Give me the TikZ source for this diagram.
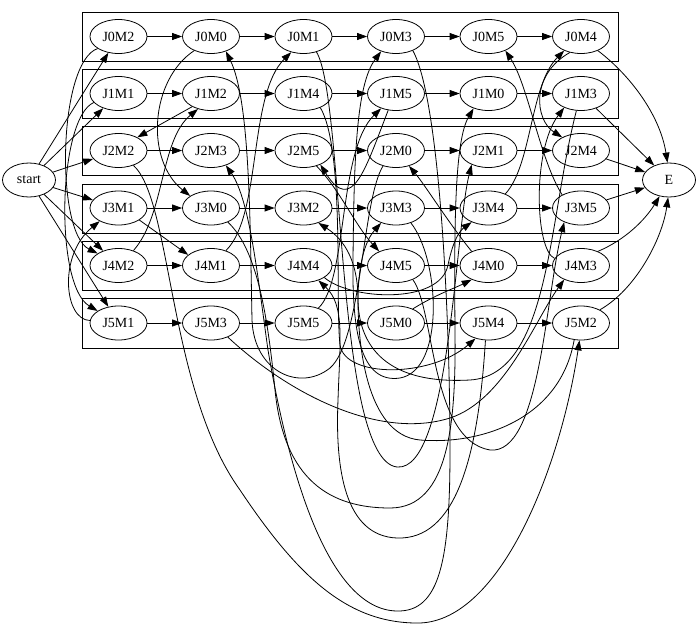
\documentclass[tikz,border=0pt]{standalone}
\usepackage{fontspec}
\setmainfont{Liberation Serif}
\usetikzlibrary{shapes.geometric,arrows.meta}
\begin{document}
\begin{tikzpicture}[x=1pt,y=-1pt,
  op/.style={draw,ellipse,minimum width=57pt,minimum height=34pt,inner sep=0pt,line width=0.8pt,font=\fontsize{14}{16}\selectfont},
  term/.style={op,minimum width=53pt},
  arr/.style={-{Triangle[length=10pt,width=7pt]},line width=0.8pt},
  jobbox/.style={draw,line width=0.8pt}]
\useasboundingbox (0,0) rectangle (700,629);
% job clusters
\draw[jobbox] (82,12) rectangle (618,61);
\draw[jobbox] (82,69) rectangle (618,118);
\draw[jobbox] (82,126) rectangle (618,175.5);
\draw[jobbox] (82,184) rectangle (618,233);
\draw[jobbox] (82,241) rectangle (618,290.5);
\draw[jobbox] (82,298.5) rectangle (618,348);
% terminals
\node[term] (start) at (29,180) {start};
\node[term] (E) at (669,180) {E};
% operations
\node[op] (J0M2) at (118.5,36.5) {J0M2};
\node[op] (J0M0) at (211,36.5) {J0M0};
\node[op] (J0M1) at (303.5,36.5) {J0M1};
\node[op] (J0M3) at (396,36.5) {J0M3};
\node[op] (J0M5) at (488.5,36.5) {J0M5};
\node[op] (J0M4) at (581,36.5) {J0M4};
\node[op] (J1M1) at (118.5,93.5) {J1M1};
\node[op] (J1M2) at (211,93.5) {J1M2};
\node[op] (J1M4) at (303.5,93.5) {J1M4};
\node[op] (J1M5) at (396,93.5) {J1M5};
\node[op] (J1M0) at (488.5,93.5) {J1M0};
\node[op] (J1M3) at (581,93.5) {J1M3};
\node[op] (J2M2) at (118.5,150.5) {J2M2};
\node[op] (J2M3) at (211,150.5) {J2M3};
\node[op] (J2M5) at (303.5,150.5) {J2M5};
\node[op] (J2M0) at (396,150.5) {J2M0};
\node[op] (J2M1) at (488.5,150.5) {J2M1};
\node[op] (J2M4) at (581,150.5) {J2M4};
\node[op] (J3M1) at (118.5,208) {J3M1};
\node[op] (J3M0) at (211,208) {J3M0};
\node[op] (J3M2) at (303.5,208) {J3M2};
\node[op] (J3M3) at (396,208) {J3M3};
\node[op] (J3M4) at (488.5,208) {J3M4};
\node[op] (J3M5) at (581,208) {J3M5};
\node[op] (J4M2) at (118.5,265.5) {J4M2};
\node[op] (J4M1) at (211,265.5) {J4M1};
\node[op] (J4M4) at (303.5,265.5) {J4M4};
\node[op] (J4M5) at (396,265.5) {J4M5};
\node[op] (J4M0) at (488.5,265.5) {J4M0};
\node[op] (J4M3) at (581,265.5) {J4M3};
\node[op] (J5M1) at (118.5,323) {J5M1};
\node[op] (J5M3) at (211,323) {J5M3};
\node[op] (J5M5) at (303.5,323) {J5M5};
\node[op] (J5M0) at (396,323) {J5M0};
\node[op] (J5M4) at (488.5,323) {J5M4};
\node[op] (J5M2) at (581,323) {J5M2};
% start edges
\draw[arr] (start) -- (J0M2);
\draw[arr] (start) -- (J1M1);
\draw[arr] (start) -- (J2M2);
\draw[arr] (start) -- (J3M1);
\draw[arr] (start) -- (J4M2);
\draw[arr] (start) -- (J5M1);
% job edges
\draw[arr] (J0M2) -- (J0M0); \draw[arr] (J0M0) -- (J0M1); \draw[arr] (J0M1) -- (J0M3);
\draw[arr] (J0M3) -- (J0M5); \draw[arr] (J0M5) -- (J0M4);
\draw[arr] (J1M1) -- (J1M2); \draw[arr] (J1M2) -- (J1M4); \draw[arr] (J1M4) -- (J1M5);
\draw[arr] (J1M5) -- (J1M0); \draw[arr] (J1M0) -- (J1M3);
\draw[arr] (J2M2) -- (J2M3); \draw[arr] (J2M3) -- (J2M5); \draw[arr] (J2M5) -- (J2M0);
\draw[arr] (J2M0) -- (J2M1); \draw[arr] (J2M1) -- (J2M4);
\draw[arr] (J3M1) -- (J3M0); \draw[arr] (J3M0) -- (J3M2); \draw[arr] (J3M2) -- (J3M3);
\draw[arr] (J3M3) -- (J3M4); \draw[arr] (J3M4) -- (J3M5);
\draw[arr] (J4M2) -- (J4M1); \draw[arr] (J4M1) -- (J4M4); \draw[arr] (J4M4) -- (J4M5);
\draw[arr] (J4M5) -- (J4M0); \draw[arr] (J4M0) -- (J4M3);
\draw[arr] (J5M1) -- (J5M3); \draw[arr] (J5M3) -- (J5M5); \draw[arr] (J5M5) -- (J5M0);
\draw[arr] (J5M0) -- (J5M4); \draw[arr] (J5M4) -- (J5M2);
% end edges
\draw[arr] (J0M4.-40) .. controls (630,75) and (660,115) .. (E.95);
\draw[arr] (J1M3) -- (E);
\draw[arr] (J2M4) -- (E);
\draw[arr] (J3M5) -- (E);
\draw[arr] (J4M3.40) .. controls (625,240) and (645,220) .. (E.-120);
\draw[arr] (J5M2.35) .. controls (635,290) and (662,240) .. (E.-93);
% machine M1
\draw[arr] (J1M1.200) .. controls (58,118) and (54,285) .. (J5M1.150);
\draw[arr] (J5M1.175) .. controls (64,320) and (58,255) .. (J3M1.-145);
\draw[arr] (J3M1.-30) -- (J4M1.155);
\draw[arr] (J4M1.45) .. controls (262,215) and (248,95) .. (J0M1.-128);
\draw[arr] (J0M1.-50) .. controls (345,100) and (335,460) .. (397,467) .. controls (450,472) and (455,230) .. (J2M1.-140);
% machine M2
\draw[arr] (J0M2.210) .. controls (58,62) and (55,232) .. (J4M2.150);
\draw[arr] (J4M2.45) .. controls (165,215) and (160,140) .. (J1M2.-130);
\draw[arr] (J1M2.-145) -- (J2M2.35);
\draw[arr] (J2M2.-45) .. controls (172,200) and (168,390) .. (240,490) .. controls (300,580) and (350,624) .. (420,623) .. controls (500,620) and (560,470) .. (J5M2.-95);
\draw[arr] (J5M2.-112) .. controls (560,420) and (480,445) .. (420,440) .. controls (365,435) and (358,340) .. (358,300) .. controls (358,262) and (345,240) .. (J3M2.-45);
% machine M0
\draw[arr] (J0M0.-140) .. controls (150,80) and (145,160) .. (J3M0.150);
\draw[arr] (J3M0.-40) .. controls (258,250) and (268,320) .. (275,390) .. controls (284,480) and (330,508) .. (390,508) .. controls (450,508) and (456,420) .. (455,330) .. controls (454,220) and (455,140) .. (J1M0.-135);
\draw[arr] (J5M0.40) .. controls (435,295) and (455,288) .. (J4M0.-140);
\draw[arr] (J4M0.140) .. controls (450,225) and (425,185) .. (J2M0.-50);
\draw[arr] (J2M0.-130) .. controls (362,200) and (362,340) .. (330,368) .. controls (300,392) and (254,372) .. (252,320) .. controls (250,220) and (250,100) .. (J0M0.-45);
% machine M3
\draw[arr] (J5M3.-40) .. controls (290,395) and (380,440) .. (450,418) .. controls (505,400) and (535,320) .. (J4M3.-140);
\draw[arr] (J4M3.165) .. controls (535,250) and (532,150) .. (J1M3.-140);
\draw[arr] (J1M3.-105) .. controls (548,220) and (550,375) .. (470,380) .. controls (380,385) and (357,340) .. (358,295) .. controls (359,260) and (366,240) .. (J3M3.-135);
\draw[arr] (J3M3.-45) .. controls (440,260) and (445,370) .. (400,378) .. controls (360,384) and (352,330) .. (353,260) .. controls (354,160) and (356,85) .. (J0M3.-135);
\draw[arr] (J0M3.-40) .. controls (440,100) and (450,320) .. (450,450) .. controls (450,560) and (440,612) .. (397,611) .. controls (330,610) and (290,480) .. (268,350) .. controls (258,280) and (250,200) .. (J2M3.-45);
% machine M4
\draw[arr] (J1M4.-40) .. controls (345,150) and (335,300) .. (340,345) .. controls (345,378) and (430,378) .. (J5M4.-130);
\draw[arr] (J5M4.-100) .. controls (478,460) and (455,540) .. (397,538) .. controls (345,536) and (335,470) .. (338,400) .. controls (340,340) and (345,305) .. (J4M4.-45);
\draw[arr] (J4M4.-30) .. controls (350,300) and (440,305) .. (448,265) .. controls (452,245) and (458,232) .. (J3M4.-140);
\draw[arr] (J3M4.40) .. controls (532,165) and (530,85) .. (J0M4.-140);
\draw[arr] (J0M4.-125) .. controls (530,75) and (535,120) .. (J2M4.145);
% machine M5
\draw[arr] (J5M5.45) .. controls (348,280) and (338,150) .. (J1M5.-135);
\draw[arr] (J1M5.-115) .. controls (365,170) and (352,215) .. (J2M5.-40);
\draw[arr] (J2M5.-50) .. controls (340,190) and (355,225) .. (J4M5.140);
\draw[arr] (J4M5.-40) .. controls (435,310) and (430,440) .. (490,450) .. controls (540,455) and (545,300) .. (J3M5.-140);
\draw[arr] (J3M5.145) .. controls (540,160) and (528,85) .. (J0M5.-40);
\end{tikzpicture}
\end{document}
